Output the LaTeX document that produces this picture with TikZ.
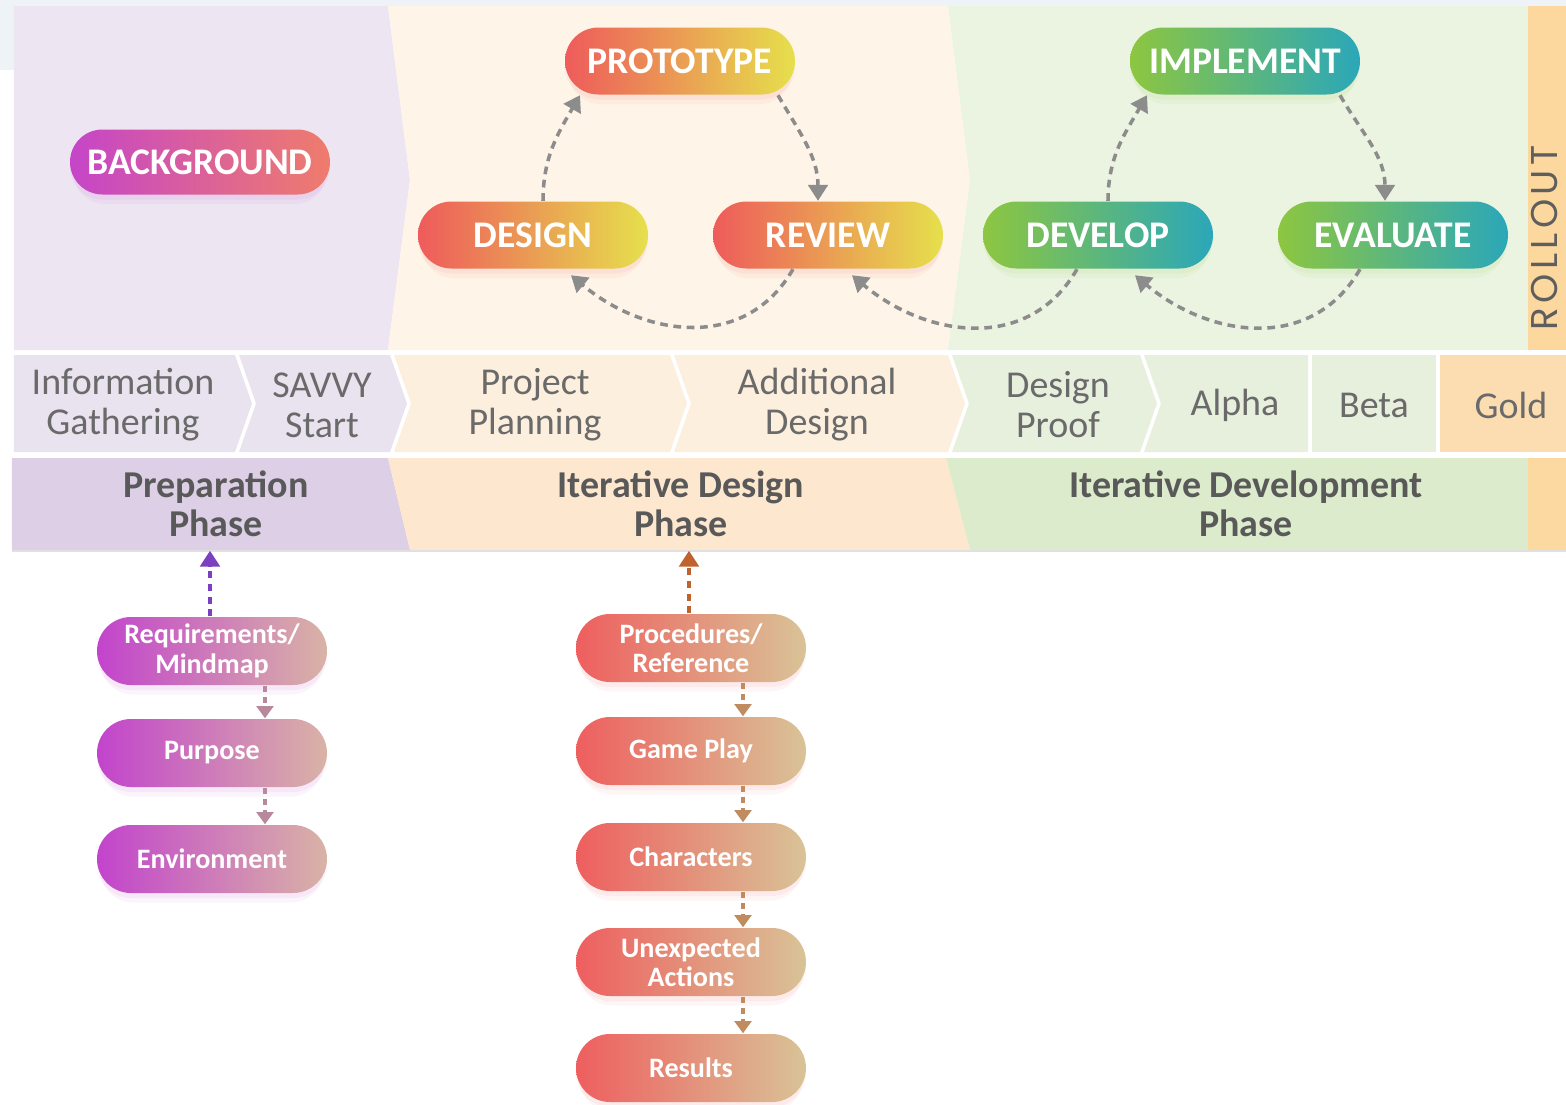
\documentclass[tikz,border=0pt]{standalone}
\usepackage{fontspec}
\setmainfont{Carlito}
\newfontfamily\rollfont[LetterSpace=12]{Poppins}
\usetikzlibrary{shapes.misc,shadows,arrows.meta}

\definecolor{cornerblue}{HTML}{EEF3F7}
\definecolor{prepband}{HTML}{EDE6F2}
\definecolor{designband}{HTML}{FEF4E7}
\definecolor{devband}{HTML}{EBF4E1}
\definecolor{rollband}{HTML}{FDD89E}
\definecolor{prepcell}{HTML}{E9E2EF}
\definecolor{designcell}{HTML}{FDEFDD}
\definecolor{devcell}{HTML}{E6F0DD}
\definecolor{goldcell}{HTML}{FCDDB2}
\definecolor{prepphase}{HTML}{DDD0E6}
\definecolor{designphase}{HTML}{FDE8CF}
\definecolor{devphase}{HTML}{DCEBCB}
\definecolor{rollphase}{HTML}{FCD9A0}
\definecolor{celltext}{HTML}{6A6A6A}
\definecolor{phasetext}{HTML}{595959}
\definecolor{rolltext}{HTML}{5E5E5E}
\definecolor{bgL}{HTML}{C545C8}
\definecolor{bgR}{HTML}{EF7C6C}
\definecolor{designL}{HTML}{EE5B5B}
\definecolor{designR}{HTML}{E6E04C}
\definecolor{devL}{HTML}{8DC640}
\definecolor{devR}{HTML}{2BA7B9}
\definecolor{prepL}{HTML}{C244CC}
\definecolor{prepR}{HTML}{D9B3A6}
\definecolor{iterL}{HTML}{EE5F5F}
\definecolor{iterR}{HTML}{D9C397}
\definecolor{loopgray}{HTML}{8C8C8C}
\definecolor{prepup}{HTML}{7B3FC2}
\definecolor{iterup}{HTML}{C0622E}
\definecolor{prepstep}{HTML}{B8899C}
\definecolor{iterstep}{HTML}{C08B5E}

\begin{document}
\begin{tikzpicture}[
    softshadow/.style={drop shadow={shadow xshift=0pt, shadow yshift=-0.05cm, opacity=0.07, fill=#1},
        drop shadow={shadow xshift=0pt, shadow yshift=-0.11cm, shadow scale=0.97, opacity=0.06, fill=#1}},
    toppill/.style={rounded rectangle, minimum width=2.3cm, minimum height=0.67cm, inner sep=0pt, text=white, font=\fontsize{10.7}{12}\selectfont\bfseries},
    bgpill/.style={toppill, minimum width=2.6cm, minimum height=0.65cm, left color=bgL, right color=bgR, softshadow=bgL},
    designpill/.style={toppill, left color=designL, right color=designR, softshadow=designL},
    devpill/.style={toppill, left color=devL, right color=devR, softshadow=devL},
    steppill/.style={rounded rectangle, minimum width=2.3cm, minimum height=0.68cm, inner sep=0pt, text=white, align=center, font=\fontsize{8}{8.4}\selectfont\bfseries},
    preppill/.style={steppill, left color=prepL, right color=prepR, softshadow=prepL},
    iterpill/.style={steppill, left color=iterL, right color=iterR, softshadow=iterL},
    cell/.style={text=celltext, align=center, font=\fontsize{10.8}{11.4}\selectfont},
    phase/.style={text=phasetext, align=center, minimum height=0.92cm, inner sep=0pt, font=\fontsize{10.8}{11.2}\selectfont\bfseries},
    cyclearrow/.style={draw=loopgray, line width=1pt, dash pattern=on 2.2pt off 1.6pt, -{Triangle[length=4.5pt, width=5.5pt]}},
    uparrow/.style={line width=1.1pt, dash pattern=on 2pt off 1.6pt, -{Triangle[length=4.5pt, width=5.5pt]}},
    steparrow/.style={line width=0.95pt, dash pattern=on 1.8pt off 1.4pt, -{Triangle[length=3.5pt, width=4.8pt]}}
]
    \useasboundingbox (0,0) rectangle (15.66,-11.05);

    % bands
    \fill[cornerblue] (0,0) rectangle (15.66,-0.06);
    \fill[cornerblue] (0,0) rectangle (0.14,-0.70);
    \fill[prepband] (0.14,-0.06) -- (3.88,-0.06) -- (4.10,-1.80) -- (3.88,-3.50) -- (0.14,-3.50) -- cycle;
    \fill[designband] (3.88,-0.06) -- (9.48,-0.06) -- (9.70,-1.80) -- (9.48,-3.50) -- (3.88,-3.50) -- (4.10,-1.80) -- cycle;
    \fill[devband] (9.48,-0.06) -- (15.28,-0.06) -- (15.28,-3.50) -- (9.48,-3.50) -- (9.70,-1.80) -- cycle;
    \fill[rollband] (15.28,-0.06) rectangle (15.66,-3.50);

    \fill[prepcell] (0.14,-3.55) -- (2.35,-3.55) -- (2.52,-4.035) -- (2.35,-4.52) -- (0.14,-4.52) -- cycle;
    \fill[prepcell] (2.39,-3.55) -- (3.90,-3.55) -- (4.07,-4.035) -- (3.90,-4.52) -- (2.39,-4.52) -- (2.56,-4.035) -- cycle;
    \fill[designcell] (3.94,-3.55) -- (6.70,-3.55) -- (6.87,-4.035) -- (6.70,-4.52) -- (3.94,-4.52) -- (4.11,-4.035) -- cycle;
    \fill[designcell] (6.74,-3.55) -- (9.48,-3.55) -- (9.65,-4.035) -- (9.48,-4.52) -- (6.74,-4.52) -- (6.91,-4.035) -- cycle;
    \fill[devcell] (9.52,-3.55) -- (11.40,-3.55) -- (11.57,-4.035) -- (11.40,-4.52) -- (9.52,-4.52) -- (9.69,-4.035) -- cycle;
    \fill[devcell] (11.44,-3.55) -- (13.08,-3.55) -- (13.08,-4.52) -- (11.44,-4.52) -- (11.61,-4.035) -- cycle;
    \fill[devcell] (13.12,-3.55) rectangle (14.36,-4.52);
    \fill[goldcell] (14.40,-3.55) rectangle (15.66,-4.52);

    \fill[prepphase] (0.12,-4.58) -- (3.88,-4.58) -- (4.10,-5.50) -- (0.12,-5.50) -- cycle;
    \fill[designphase] (3.88,-4.58) -- (9.46,-4.58) -- (9.70,-5.50) -- (4.10,-5.50) -- cycle;
    \fill[devphase] (9.46,-4.58) -- (15.28,-4.58) -- (15.28,-5.50) -- (9.70,-5.50) -- cycle;
    \fill[rollphase] (15.28,-4.58) rectangle (15.66,-5.50);
    \draw[black!12, line width=0.4pt] (0.12,-5.51) -- (15.66,-5.51);

    % cycles
    \node[bgpill] (background) at (2.00,-1.62) {BACKGROUND};
    \node[designpill] (proto) at (6.80,-0.61) {PROTOTYPE};
    \node[designpill] (design) at (5.33,-2.35) {DESIGN};
    \node[designpill] (review) at (8.28,-2.35) {REVIEW};
    \node[devpill] (impl) at (12.45,-0.61) {IMPLEMENT};
    \node[devpill] (develop) at (10.98,-2.35) {DEVELOP};
    \node[devpill] (evaluate) at (13.93,-2.35) {EVALUATE};
    \node[text=rolltext, rotate=90, inner sep=0pt, font=\rollfont\fontsize{10.6}{12}\selectfont] (rollout) at (15.44,-2.38) {ROLLOUT};

    \draw[cyclearrow] ([xshift=0.1cm]design.north) to[out=90, in=240] ([xshift=-1cm]proto.south);
    \draw[cyclearrow] ([xshift=0.98cm]proto.south) to[out=-60, in=90] ([xshift=-0.1cm]review.north);
    \draw[cyclearrow] ([xshift=-0.35cm]review.south) to[out=-120, in=-40, looseness=1.1] ([xshift=0.38cm, yshift=-0.06cm]design.south);
    \draw[cyclearrow] ([xshift=-0.21cm]develop.south) to[out=-120, in=-40, looseness=1.1] ([xshift=0.24cm, yshift=-0.06cm]review.south);
    \draw[cyclearrow] ([xshift=0.1cm]develop.north) to[out=90, in=240] ([xshift=-0.98cm]impl.south);
    \draw[cyclearrow] ([xshift=0.95cm]impl.south) to[out=-60, in=90] ([xshift=-0.08cm]evaluate.north);
    \draw[cyclearrow] ([xshift=-0.33cm]evaluate.south) to[out=-120, in=-40, looseness=1.1] ([xshift=0.37cm, yshift=-0.06cm]develop.south);

    % milestones
    \node[cell] (info) at (1.23,-4.05) {Information\\Gathering};
    \node[cell] (savvy) at (3.22,-4.05) {SAVVY\\Start};
    \node[cell] (plan) at (5.35,-4.05) {Project\\Planning};
    \node[cell] (adddesign) at (8.17,-4.05) {Additional\\Design};
    \node[cell] (proof) at (10.58,-4.05) {Design\\Proof};
    \node[cell] (alpha) at (12.35,-4.05) {Alpha};
    \node[cell] (beta) at (13.74,-4.05) {Beta};
    \node[cell] (gold) at (15.11,-4.05) {Gold};

    \node[phase] (prep) at (2.16,-5.04) {Preparation\\Phase};
    \node[phase] (iterdesign) at (6.81,-5.04) {Iterative Design\\Phase};
    \node[phase] (iterdev) at (12.46,-5.04) {Iterative Development\\Phase};

    % steps
    \node[preppill] (req) at (2.12,-6.51) {Requirements/\\Mindmap};
    \node[preppill] (purpose) at (2.12,-7.53) {Purpose};
    \node[preppill] (env) at (2.12,-8.59) {Environment};

    \node[iterpill] (proc) at (6.91,-6.48) {Procedures/\\Reference};
    \node[iterpill] (game) at (6.91,-7.51) {Game Play};
    \node[iterpill] (chars) at (6.91,-8.57) {Characters};
    \node[iterpill] (unexp) at (6.91,-9.62) {Unexpected\\Actions};
    \node[iterpill] (results) at (6.91,-10.68) {Results};

    \draw[uparrow, prepup] ([xshift=-0.02cm]req.north) -- ([xshift=-0.02cm]req.north |- prep.south);
    \draw[uparrow, iterup] ([xshift=-0.02cm]proc.north) -- ([xshift=-0.02cm]proc.north |- iterdesign.south);

    \draw[steparrow, prepstep] ([xshift=0.53cm]req.south) -- ([xshift=0.53cm]purpose.north);
    \draw[steparrow, prepstep] ([xshift=0.53cm]purpose.south) -- ([xshift=0.53cm]env.north);
    \draw[steparrow, iterstep] ([xshift=0.52cm]proc.south) -- ([xshift=0.52cm]game.north);
    \draw[steparrow, iterstep] ([xshift=0.52cm]game.south) -- ([xshift=0.52cm]chars.north);
    \draw[steparrow, iterstep] ([xshift=0.52cm]chars.south) -- ([xshift=0.52cm]unexp.north);
    \draw[steparrow, iterstep] ([xshift=0.52cm]unexp.south) -- ([xshift=0.52cm]results.north);
\end{tikzpicture}
\end{document}
